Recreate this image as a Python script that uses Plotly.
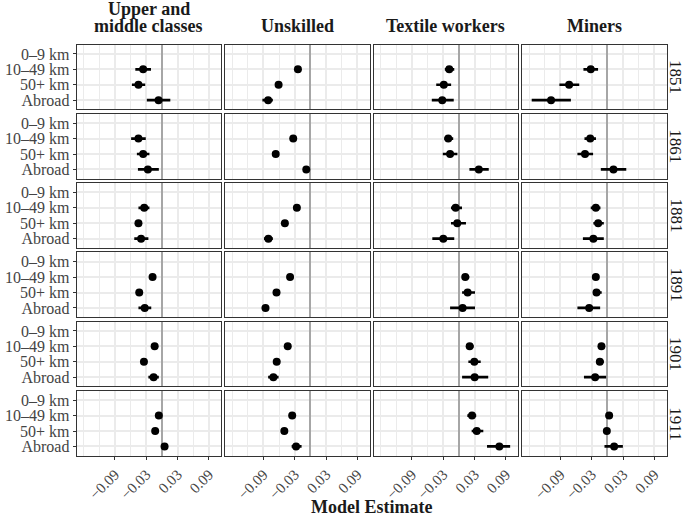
import plotly.graph_objects as go

occupations = ["Upper and\nmiddle classes", "Unskilled", "Textile workers", "Miners"]
years = ["1851", "1861", "1881", "1891", "1901", "1911"]
distances = ["0–9 km", "10–49 km", "50+ km", "Abroad"]
plotted = ["10–49 km", "50+ km", "Abroad"]
x_ticks = [-0.09, -0.03, 0.03, 0.09]
x_minor = [-0.15, -0.12, -0.06, 0.0, 0.06]

# estimates [year][distance] for 10–49 km, 50+ km, Abroad
upper_est = [[-0.036, -0.045, -0.0065], [-0.045, -0.036, -0.027], [-0.034, -0.045, -0.040],
             [-0.018, -0.0435, -0.033], [-0.014, -0.0345, -0.016], [-0.006, -0.013, 0.005]]
upper_lo = [[-0.051, -0.0575, -0.029], [-0.059, -0.048, -0.046], [-0.045, -0.050, -0.053],
            [-0.022, -0.048, -0.045], [-0.018, -0.038, -0.026], [-0.009, -0.017, -0.001]]
upper_hi = [[-0.021, -0.032, 0.016], [-0.031, -0.024, -0.006], [-0.024, -0.040, -0.026],
            [-0.014, -0.039, -0.0205], [-0.010, -0.031, -0.006], [-0.003, -0.009, 0.010]]

unsk_est = [[-0.024, -0.061, -0.081], [-0.033, -0.0665, -0.008], [-0.026, -0.049, -0.0805],
            [-0.039, -0.065, -0.086], [-0.0435, -0.0646, -0.071], [-0.035, -0.050, -0.0275]]
unsk_lo = [[-0.028, -0.066, -0.092], [-0.037, -0.071, -0.012], [-0.030, -0.053, -0.089],
           [-0.043, -0.069, -0.093], [-0.047, -0.068, -0.081], [-0.039, -0.054, -0.036]]
unsk_hi = [[-0.020, -0.056, -0.072], [-0.029, -0.062, -0.002], [-0.022, -0.045, -0.072],
           [-0.035, -0.061, -0.080], [-0.040, -0.061, -0.061], [-0.031, -0.046, -0.017]]

text_est = [[-0.0186, -0.029, -0.032], [-0.0205, -0.017, 0.038], [-0.0064, -0.0033, -0.030],
            [0.012, 0.0166, 0.007], [0.0205, 0.0294, 0.030], [0.025, 0.034, 0.0773]]
text_lo = [[-0.027, -0.0435, -0.052], [-0.028, -0.031, 0.020], [-0.0153, -0.0153, -0.051],
           [0.006, 0.006, -0.017], [0.0135, 0.018, 0.006], [0.016, 0.0243, 0.0537]]
text_hi = [[-0.009, -0.015, -0.010], [-0.011, -0.003, 0.057], [0.0058, 0.0134, -0.009],
           [0.0198, 0.0307, 0.0307], [0.028, 0.0416, 0.056], [0.033, 0.0466, 0.098]]

mine_est = [[-0.032, -0.0734, -0.108], [-0.033, -0.043, 0.0115], [-0.0223, -0.0178, -0.027],
            [-0.0223, -0.021, -0.035], [-0.0115, -0.0146, -0.0236], [0.0032, -0.0012, 0.0128]]
mine_lo = [[-0.046, -0.092, -0.145], [-0.044, -0.0575, -0.0127], [-0.032, -0.027, -0.047],
           [-0.027, -0.027, -0.0575], [-0.016, -0.022, -0.045], [0.000, -0.005, -0.0057]]
mine_hi = [[-0.018, -0.054, -0.070], [-0.022, -0.0275, 0.036], [-0.0134, -0.007, -0.007],
           [-0.018, -0.011, -0.014], [-0.007, -0.007, -0.0025], [0.006, 0.003, 0.0295]]

EST = [upper_est, unsk_est, text_est, mine_est]
LO = [upper_lo, unsk_lo, text_lo, mine_lo]
HI = [upper_hi, unsk_hi, text_hi, mine_hi]

W, H = 685, 516
FONT = "Liberation Serif"
col_left = [76.8, 225.3, 373.8, 522.3]
col_w = 144.2
row_top = [44.7 + i * 69.25 for i in range(6)]
row_h = 64.7
x_range = [-0.163, 0.113]

fig = go.Figure()
layout = {}
for r in range(6):
    for c in range(4):
        idx = r * 4 + c + 1
        xa = "x" if idx == 1 else f"x{idx}"
        ya = "y" if idx == 1 else f"y{idx}"
        est = EST[c][r]
        lo = LO[c][r]
        hi = HI[c][r]
        ypos = [distances.index(d) for d in plotted]
        fig.add_trace(go.Scatter(
            x=est, y=ypos, xaxis=xa, yaxis=ya, mode="markers",
            marker=dict(color="black", size=8),
            error_x=dict(type="data", symmetric=False,
                         array=[h - e for h, e in zip(hi, est)],
                         arrayminus=[e - l for e, l in zip(est, lo)],
                         color="black", thickness=2.6, width=0),
            showlegend=False, hoverinfo="skip"))
        left = col_left[c]
        top = row_top[r]
        xkey = "xaxis" if idx == 1 else f"xaxis{idx}"
        ykey = "yaxis" if idx == 1 else f"yaxis{idx}"
        bottom_row = r == 5
        first_col = c == 0
        layout[xkey] = dict(
            domain=[left / W, (left + col_w) / W], anchor=ya, range=x_range,
            tickvals=x_ticks, tickformat=".2f", tickangle=-45,
            showticklabels=bottom_row, ticks="outside" if bottom_row else "",
            ticklen=3, tickwidth=1.2, tickcolor="#333333",
            tickfont=dict(family=FONT, size=15, color="#444444"),
            showgrid=True, gridcolor="#EBEBEB", gridwidth=1.6,
            minor=dict(tickvals=x_minor, showgrid=True, gridcolor="#EBEBEB", gridwidth=1.1, ticks=""),
            zeroline=True, zerolinecolor="#A6A6A6", zerolinewidth=2.2,
            showline=True, mirror=True, linecolor="#333333", linewidth=1.3,
            fixedrange=True)
        layout[ykey] = dict(
            domain=[1 - (top + row_h) / H, 1 - top / H], anchor=xa,
            range=[3.6, -0.6], tickvals=list(range(len(distances))), ticktext=distances,
            showticklabels=first_col, ticks="outside" if first_col else "",
            ticklen=3, tickwidth=1.2, tickcolor="#333333",
            tickfont=dict(family=FONT, size=16, color="#444444"),
            showgrid=True, gridcolor="#EBEBEB", gridwidth=1.6, zeroline=False,
            showline=True, mirror=True, linecolor="#333333", linewidth=1.3,
            fixedrange=True)

annotations = []
for c, name in enumerate(occupations):
    lines = name.split("\n")
    for k, line in enumerate(reversed(lines)):
        annotations.append(dict(
            text=f"<b>{line}</b>", x=(col_left[c] + col_w / 2) / W,
            y=1 - (38 - 17 * k) / H,
            xref="paper", yref="paper", xanchor="center", yanchor="bottom",
            showarrow=False, font=dict(family=FONT, size=18, color="#1a1a1a")))
for r, yr in enumerate(years):
    annotations.append(dict(
        text=yr, x=676 / W, y=1 - (row_top[r] + row_h / 2) / H,
        xref="paper", yref="paper", xanchor="center", yanchor="middle",
        textangle=90, showarrow=False, font=dict(family=FONT, size=17, color="#1a1a1a")))
annotations.append(dict(
    text="<b>Model Estimate</b>", x=(col_left[0] + col_left[3] + col_w) / 2 / W, y=1 - 507 / H,
    xref="paper", yref="paper", xanchor="center", yanchor="middle",
    showarrow=False, font=dict(family=FONT, size=18, color="#1a1a1a")))

fig.update_layout(
    width=W, height=H, margin=dict(l=0, r=0, t=0, b=0),
    paper_bgcolor="white", plot_bgcolor="white",
    annotations=annotations, **layout)

fig.write_html("out.html", config={"displayModeBar": False},
               post_script="document.body.style.margin='0';")
